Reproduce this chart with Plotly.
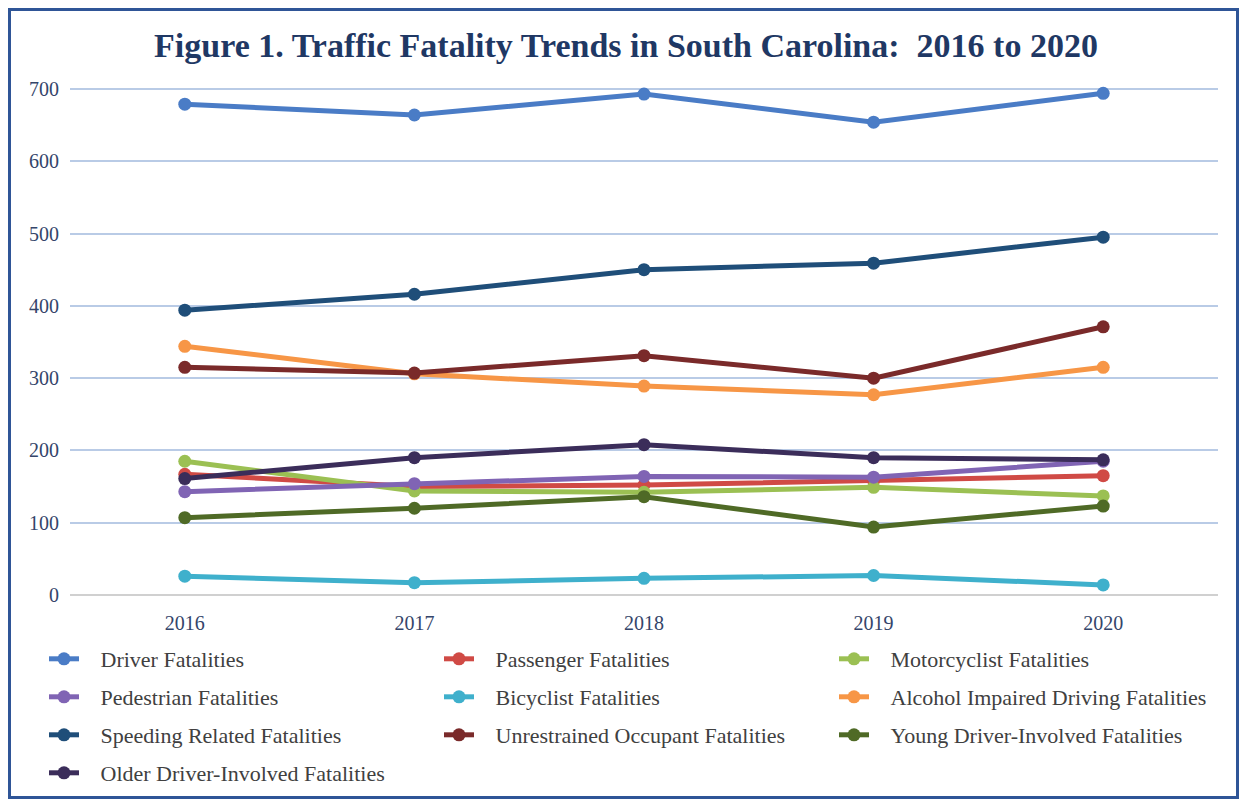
import plotly.graph_objects as go

YEARS = ["2016", "2017", "2018", "2019", "2020"]

DRIVER = [679, 664, 693, 654, 694]
PASSENGER = [167, 150, 152, 158, 165]
MOTORCYCLIST = [185, 144, 142, 149, 137]
PEDESTRIAN = [143, 154, 164, 163, 185]
BICYCLIST = [26, 17, 23, 27, 14]
ALCOHOL = [344, 306, 289, 277, 315]
SPEEDING = [394, 416, 450, 459, 495]
UNRESTRAINED = [315, 307, 331, 300, 371]
YOUNG = [107, 120, 136, 94, 123]
OLDER = [161, 190, 208, 190, 187]

SERIES = [
    ("Driver Fatalities", DRIVER, "#4A7CC6"),
    ("Passenger Fatalities", PASSENGER, "#D04A45"),
    ("Motorcyclist Fatalities", MOTORCYCLIST, "#9BC053"),
    ("Pedestrian Fatalities", PEDESTRIAN, "#8064B4"),
    ("Bicyclist Fatalities", BICYCLIST, "#3FB0CC"),
    ("Alcohol Impaired Driving Fatalities", ALCOHOL, "#F79646"),
    ("Speeding Related Fatalities", SPEEDING, "#1F4E79"),
    ("Unrestrained Occupant Fatalities", UNRESTRAINED, "#7A2A2A"),
    ("Young Driver-Involved Fatalities", YOUNG, "#4F6A26"),
    ("Older Driver-Involved Fatalities", OLDER, "#3B2D5A"),
]

# the page body has an 8px margin, so the figure is smaller than the window
W, H = 1231, 791
L, R, T, B = 62, 21, 62, 204
pw, ph = W - L - R, H - T - B

LEGEND_ROWS = [651, 689, 727, 765]  # row centres, figure pixels
LEGEND_FONT = dict(family="Liberation Serif", size=22, color="#404040")
TICK_FONT = dict(family="Liberation Serif", size=20, color="#34456A")

fig = go.Figure()
for i, (name, vals, color) in enumerate(SERIES):
    row = i // 3
    fig.add_trace(go.Scatter(
        x=YEARS, y=vals, name="\u00a0\u00a0\u00a0" + name, mode="lines+markers",
        line=dict(color=color, width=5),
        marker=dict(color=color, size=13),
        legend="legend" if row == 0 else f"legend{row + 1}",
    ))

legends = {}
for row, yc in enumerate(LEGEND_ROWS):
    key = "legend" if row == 0 else f"legend{row + 1}"
    legends[key] = dict(
        orientation="h", x=(36 - L) / pw, xanchor="left",
        y=(H - B - yc) / ph, yanchor="middle",
        entrywidth=350, entrywidthmode="pixels",
        font=LEGEND_FONT, bgcolor="rgba(0,0,0,0)",
    )

fig.update_layout(
    width=W, height=H,
    margin=dict(l=L, r=R, t=T, b=B, autoexpand=False),
    paper_bgcolor="white", plot_bgcolor="white",
    title=dict(
        text="<b>Figure 1. Traffic Fatality Trends in South Carolina:  2016 to 2020</b>",
        x=618 / W, xref="container", xanchor="center", y=1 - 37 / H, yanchor="middle",
        font=dict(family="Liberation Serif", size=34, color="#1F3864"),
    ),
    xaxis=dict(
        type="category", range=[-0.5, 4.5], showgrid=False, showline=False,
        ticks="", ticklabelstandoff=14, tickfont=TICK_FONT,
    ),
    yaxis=dict(
        range=[0, (595 - 70) / 0.7229], tickvals=[0, 100, 200, 300, 400, 500, 600, 700],
        showgrid=True, gridcolor="#B9CBE6", gridwidth=1.5,
        zeroline=True, zerolinecolor="#D0D0D0", zerolinewidth=1.5,
        ticks="", ticklabelstandoff=10, tickfont=TICK_FONT,
    ),
    showlegend=True,
    **legends,
)

# blue frame around the whole picture
fig.add_shape(
    type="rect", xref="paper", yref="paper",
    x0=(1.5 - L) / pw, x1=(W - 1.5 - L) / pw,
    y0=-(B - 1.5) / ph, y1=1 + (T - 1.5) / ph,
    line=dict(color="#2F5597", width=3), fillcolor="rgba(0,0,0,0)",
)

fig.write_html("out.html")
